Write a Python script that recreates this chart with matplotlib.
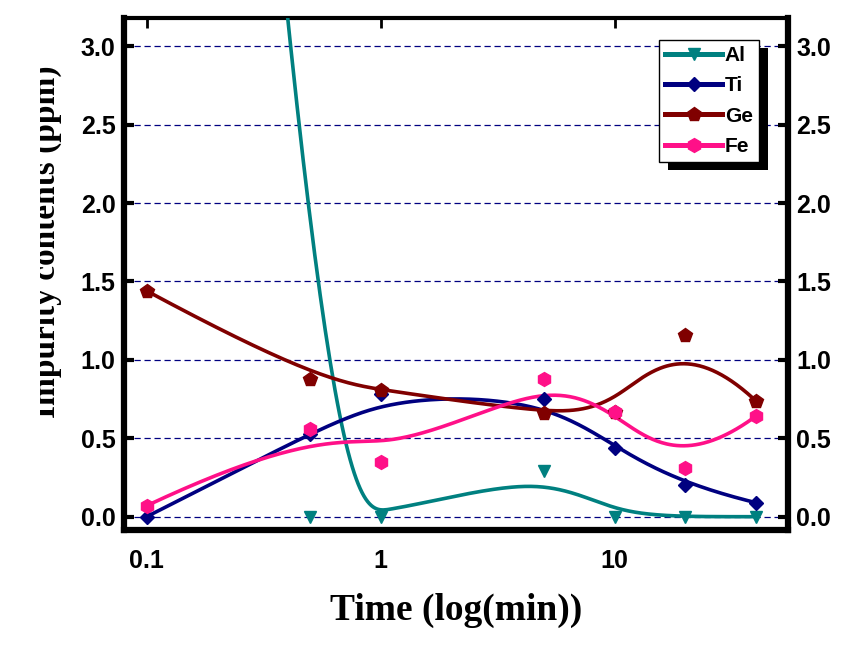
import numpy as np
import matplotlib
matplotlib.use("Agg")
import matplotlib.pyplot as plt
from matplotlib.patches import Rectangle
from matplotlib.transforms import Bbox, TransformedBbox, IdentityTransform

# data (Al at 0.1 min is off scale, estimated)
time = [0.1, 0.5, 1, 5, 10, 20, 40]
al = [14.0, 0.0, 0.0, 0.29, 0.0, 0.0, 0.0]
ti = [0.0, 0.53, 0.78, 0.75, 0.44, 0.20, 0.09]
ge = [1.44, 0.88, 0.81, 0.66, 0.67, 1.16, 0.74]
fe = [0.07, 0.56, 0.35, 0.88, 0.67, 0.31, 0.64]

labels = ["Al", "Ti", "Ge", "Fe"]
colors = ["#008080", "#000080", "#800000", "#ff1088"]
markers = ["v", "D", "p", "h"]
msizes = [9, 7, 10, 10]


def bspline(xs, ys, k=3, n=300):
    # clamped cubic B-spline with the data points as control points (log x)
    px = np.log10(np.asarray(xs, float))
    py = np.asarray(ys, float)
    m = len(px)
    knots = np.concatenate([[0] * k, np.arange(m - k + 1), [m - k] * k]).astype(float)
    u = np.linspace(0, m - k, n)
    N = np.zeros((n, len(knots) - 1))
    for i in range(len(knots) - 1):
        N[:, i] = (knots[i] <= u) & (u < knots[i + 1])
    last = np.nonzero(knots[:-1] < knots[1:])[0].max()
    N[u >= knots[-1], last] = 1
    for d in range(1, k + 1):
        Nn = np.zeros((n, len(knots) - 1 - d))
        for i in range(len(knots) - 1 - d):
            a = knots[i + d] - knots[i]
            b = knots[i + d + 1] - knots[i + 1]
            t1 = (u - knots[i]) / a * N[:, i] if a > 0 else 0
            t2 = (knots[i + d + 1] - u) / b * N[:, i + 1] if b > 0 else 0
            Nn[:, i] = t1 + t2
        N = Nn
    return 10 ** (N @ px), N @ py


fig = plt.figure(figsize=(8.66, 6.47), dpi=100)
ax = fig.add_axes([0.1432, 0.1808, 0.7667, 0.7913])

for ys, lab, c, mk, ms in zip([al, ti, ge, fe], labels, colors, markers, msizes):
    cx, cy = bspline(time, ys)
    ax.plot(cx, cy, color=c, lw=2.6, zorder=3)
    ax.plot(time, ys, ls="none", marker=mk, ms=ms, color=c, zorder=4)
    ax.plot([], [], color=c, lw=3.6, marker=mk, ms=ms, label=lab)

ax.set_xscale("log")
ax.set_xlim(0.08, 55)
ax.set_ylim(-0.085, 3.18)
ax.set_xticks([0.1, 1, 10])
ax.set_xticklabels(["0.1", "1", "10"])
ax.xaxis.set_minor_locator(matplotlib.ticker.NullLocator())
ax.set_yticks(np.arange(0, 3.01, 0.5))
ax.set_yticklabels(["%.1f" % v for v in np.arange(0, 3.01, 0.5)])

ax.grid(axis="y", color="#000080", ls=(0, (5, 3)), lw=0.9, zorder=1)

for s in ["left", "right", "bottom"]:
    ax.spines[s].set_linewidth(4.5)
ax.spines["top"].set_linewidth(3)

ax.tick_params(axis="y", which="major", direction="in", length=7, width=3,
               left=True, right=True, labelleft=True, labelright=True, pad=6)
ax.tick_params(axis="x", which="major", direction="in", length=7, width=2,
               bottom=False, top=True, pad=14)
for lab in ax.get_yticklabels() + ax.get_xticklabels():
    lab.set_fontfamily("Liberation Sans")
    lab.set_fontweight("bold")
    lab.set_fontsize(18)

ax.set_xlabel("Time (log(min))", fontfamily="Liberation Serif", fontweight="bold",
              fontsize=27, labelpad=14)

# y label is cut at the left edge of the picture
yl = fig.text(55 / 866, 1 - 242 / 647, "Impurity contents (ppm)", rotation=90,
              rotation_mode="anchor", ha="center", va="baseline",
              fontfamily="Liberation Serif", fontweight="bold", fontsize=24)
yl.set_clip_box(TransformedBbox(Bbox([[40 / 866, 0], [1, 1]]), fig.transFigure))
yl.set_clip_on(True)

leg = ax.legend(loc="upper left", bbox_to_anchor=(0.806, 0.958), borderaxespad=0,
                frameon=True, fancybox=False, framealpha=1, handlelength=2.7,
                handletextpad=0.15, labelspacing=0.55, borderpad=0.3,
                prop={"family": "Liberation Sans", "weight": "bold", "size": 15})
leg.get_frame().set_edgecolor("black")
leg.get_frame().set_facecolor("white")
leg.get_frame().set_linewidth(1)
leg.set_zorder(6)

fig.canvas.draw()
bb = leg.get_window_extent()
shadow = Rectangle((bb.x0 + 9, bb.y0 - 8), bb.width, bb.height, facecolor="black",
                   edgecolor="none", transform=IdentityTransform(), clip_on=False,
                   zorder=5.5)
ax.add_patch(shadow)

fig.savefig("out.png", dpi=100)
